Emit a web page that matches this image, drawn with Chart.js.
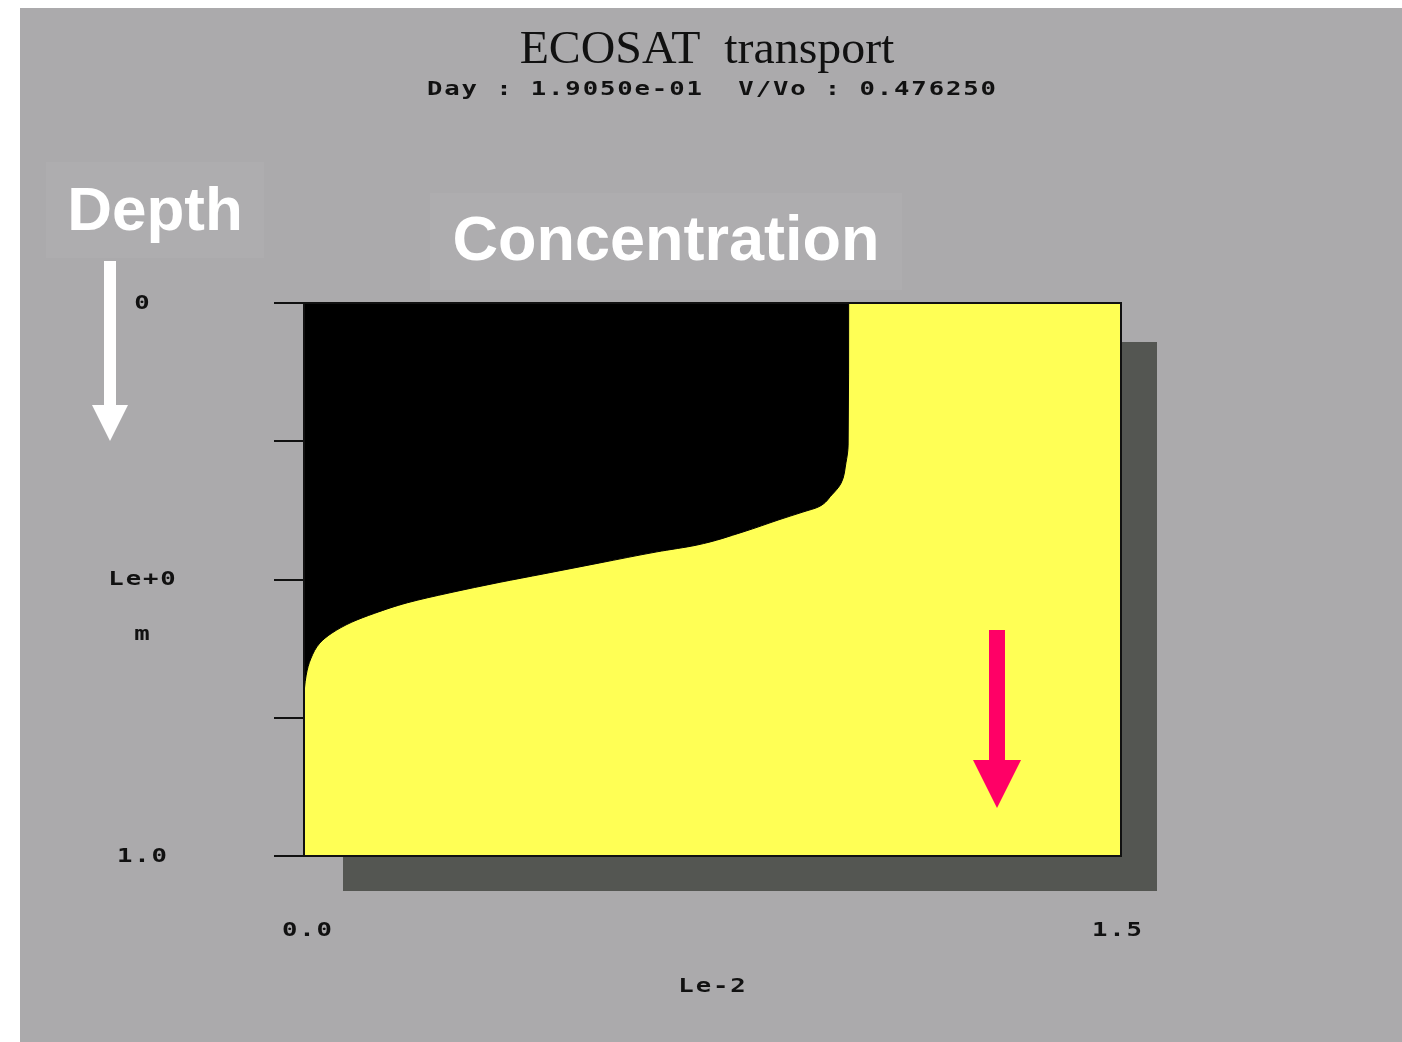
<!DOCTYPE html>
<html>
<head>
<meta charset="utf-8">
<title>ECOSAT transport</title>
<script src="https://cdn.jsdelivr.net/npm/chart.js@4/dist/chart.umd.min.js"></script>
<style>
  html, body { margin: 0; padding: 0; background: #fff; overflow: hidden; }
  canvas { display: block; }
</style>
</head>
<body>
<canvas id="profile" width="1402" height="1042"></canvas>
<script>
// depth (m, Le+0) and concentration (Le-2)
const depth = [0, 0.257, 0.289, 0.326, 0.347, 0.369, 0.378, 0.392, 0.414, 0.438, 0.450, 0.470, 0.490, 0.505, 0.524, 0.542, 0.561, 0.577, 0.597, 0.615, 0.642, 0.673, 0.720, 1.0];
const conc  = [1.0, 0.999, 0.995, 0.986, 0.969, 0.944, 0.916, 0.872, 0.806, 0.720, 0.648, 0.543, 0.439, 0.360, 0.268, 0.190, 0.130, 0.088, 0.051, 0.029, 0.013, 0.004, 0, 0];

const yTicks = [0, 0.25, 0.5, 0.75, 1.0];
const yTickLabels = ["0", "", "Le+0", "", "1.0"];
const xTicks = [0, 1.5];
const xTickLabels = ["0.0", "1.5"];

const titleText = "ECOSAT  transport";
const subtitleText = "Day : 1.9050e-01  V/Vo : 0.476250";

const BG = "#abaaac";
const MONO = "bold 19px 'DejaVu Sans Mono', monospace";

// old bitmap font look: wide glyphs on a fixed advance
function drawSpaced(ctx, text, x, y, adv, align) {
  const w = text.length * adv;
  const start = align === "left" ? x : x - w / 2;
  ctx.textAlign = "center";
  for (let i = 0; i < text.length; i++) {
    ctx.save();
    ctx.translate(start + adv * i + adv / 2, y);
    ctx.scale(1.35, 1);
    ctx.fillText(text[i], 0, 0);
    ctx.restore();
  }
}

function arrowDown(ctx, cx, top, headTop, tip, shaftW, headW, color) {
  ctx.fillStyle = color;
  ctx.fillRect(cx - shaftW / 2, top, shaftW, headTop - top + 1);
  ctx.beginPath();
  ctx.moveTo(cx - headW / 2, headTop);
  ctx.lineTo(cx + headW / 2, headTop);
  ctx.lineTo(cx, tip);
  ctx.closePath();
  ctx.fill();
}

const backdrop = {
  id: "backdrop",
  beforeDraw(chart) {
    const { ctx, chartArea: a } = chart;
    ctx.save();
    ctx.fillStyle = "#fff";
    ctx.fillRect(0, 0, chart.width, chart.height);
    ctx.fillStyle = BG;
    ctx.fillRect(20, 8, chart.width - 20, chart.height - 8);
    // label boxes
    ctx.fillStyle = "#aeadaf";
    ctx.fillRect(46, 162, 218, 96);
    ctx.fillRect(430, 193, 472, 97);
    // drop shadow
    ctx.fillStyle = "#545652";
    ctx.fillRect(a.left + 39, a.top + 39, a.right - a.left - 3, a.bottom - a.top - 4);
    // yellow plot area
    ctx.fillStyle = "#ffff55";
    ctx.fillRect(a.left, a.top, a.right - a.left, a.bottom - a.top);
    ctx.restore();
  },
  afterDraw(chart) {
    const { ctx, chartArea: a, scales } = chart;
    ctx.save();
    ctx.strokeStyle = "#111";
    ctx.lineWidth = 2;
    ctx.strokeRect(a.left, a.top, a.right - a.left, a.bottom - a.top);

    // title
    ctx.fillStyle = "#111";
    ctx.textBaseline = "alphabetic";
    ctx.textAlign = "center";
    ctx.font = "46px 'Liberation Serif', serif";
    ctx.save();
    ctx.translate(707, 63);
    ctx.scale(1.04, 1);
    ctx.fillText(titleText, 0, 0);
    ctx.restore();

    ctx.font = MONO;
    ctx.textBaseline = "middle";
    drawSpaced(ctx, subtitleText, 426, 90, 17.3, "left");

    // y tick labels
    yTicks.forEach((v, i) => {
      if (yTickLabels[i]) drawSpaced(ctx, yTickLabels[i], 142, scales.y.getPixelForValue(v) + 1, 17.3);
    });
    drawSpaced(ctx, "m", 142, 635, 17.3);

    // x tick labels
    xTicks.forEach((v, i) => {
      drawSpaced(ctx, xTickLabels[i], scales.x.getPixelForValue(v) + 3 - (i ? 7 : 0), 931, 17.3);
    });
    drawSpaced(ctx, "Le-2", 712, 987, 17.3);

    // annotations
    ctx.fillStyle = "#fff";
    ctx.font = "bold 62px 'Liberation Sans', Arial, sans-serif";
    ctx.textAlign = "center";
    ctx.fillText("Depth", 155, 213);
    ctx.font = "bold 63px 'Liberation Sans', Arial, sans-serif";
    ctx.fillText("Concentration", 666, 243);

    arrowDown(ctx, 110, 261, 405, 441, 12, 36, "#fff");
    arrowDown(ctx, 997, 630, 760, 808, 16, 48, "#ff0066");
    ctx.restore();
  }
};

new Chart(document.getElementById("profile"), {
  type: "line",
  data: {
    datasets: [{
      data: depth.map((d, i) => ({ x: conc[i], y: d })),
      borderColor: "#000",
      borderWidth: 1,
      backgroundColor: "#000",
      fill: "origin",
      pointRadius: 0,
      cubicInterpolationMode: "monotone",
    }],
  },
  options: {
    indexAxis: "y",
    responsive: false,
    animation: false,
    events: [],
    layout: { padding: { left: 274, top: 303, right: 281, bottom: 186 } },
    scales: {
      x: {
        type: "linear",
        min: 0,
        max: 1.5,
        display: false,
      },
      y: {
        type: "linear",
        min: 0,
        max: 1,
        reverse: true,
        afterBuildTicks: (s) => { s.ticks = yTicks.map((v) => ({ value: v })); },
        ticks: { display: false },
        grid: { drawOnChartArea: false, color: "#111", lineWidth: 2, tickLength: 30 },
        border: { color: "#111", width: 2 },
      },
    },
    plugins: {
      legend: { display: false },
      tooltip: { enabled: false },
    },
  },
  plugins: [backdrop],
});
</script>
</body>
</html>
